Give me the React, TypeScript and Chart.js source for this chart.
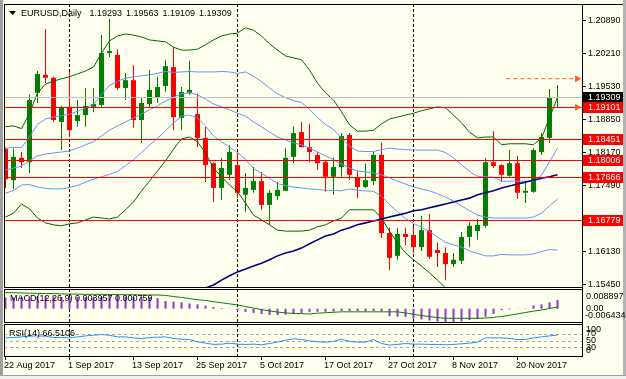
import React, { useEffect, useRef } from 'react';
import { Chart, registerables } from 'chart.js';

Chart.register(...registerables);

// ---------------- data ----------------
const SYMBOL = 'EURUSD';
const TIMEFRAME = 'Daily';

const OPEN = [
  1.1824, 1.1760, 1.1806, 1.1797, 1.1940, 1.1977, 1.1971, 1.1880, 1.1911, 1.1882,
  1.1894, 1.1911, 1.1915, 1.2022, 1.2018, 1.1950, 1.1966, 1.1884, 1.1917, 1.1931,
  1.1954, 1.1993, 1.1888, 1.1940, 1.1896, 1.1847, 1.1795, 1.1744, 1.1771, 1.1791,
  1.1730, 1.1740, 1.1758, 1.1709, 1.1727, 1.1738, 1.1808, 1.1859, 1.1828, 1.1812,
  1.1797, 1.1767, 1.1787, 1.1853, 1.1765, 1.1746, 1.1758, 1.1812, 1.1651, 1.1604,
  1.1649, 1.1647, 1.1622, 1.1657, 1.1616, 1.1610, 1.1587, 1.1594, 1.1643, 1.1655,
  1.1666, 1.1797, 1.1791, 1.1769, 1.1795, 1.1734, 1.1736, 1.1818, 1.1847, 1.19293,
];
const HIGH = [
  1.1828, 1.1826, 1.1818, 1.1936, 1.1985, 1.2071, 1.1973, 1.1913, 1.1983, 1.1925,
  1.1950, 1.1950, 1.2059, 1.2092, 1.2030, 1.1981, 1.1997, 1.1931, 1.1987, 1.1973,
  1.2008, 1.2034, 1.1952, 1.2006, 1.1938, 1.1870, 1.1797, 1.1806, 1.1832, 1.1816,
  1.1775, 1.1787, 1.1777, 1.1740, 1.1756, 1.1826, 1.1870, 1.1880, 1.1876, 1.1818,
  1.1802, 1.1806, 1.1857, 1.1857, 1.1779, 1.1795, 1.1818, 1.1837, 1.1662, 1.1662,
  1.1662, 1.1664, 1.1686, 1.1690, 1.1631, 1.1622, 1.1610, 1.1653, 1.1674, 1.1680,
  1.1806, 1.1861, 1.1793, 1.1822, 1.1810, 1.1758, 1.1826, 1.1857, 1.1948, 1.19563,
];
const LOW = [
  1.1744, 1.1742, 1.1785, 1.1775, 1.1919, 1.1960, 1.1880, 1.1822, 1.1849, 1.1870,
  1.1870, 1.1900, 1.1912, 1.2014, 1.1946, 1.1925, 1.1868, 1.1837, 1.1911, 1.1919,
  1.1942, 1.1863, 1.1863, 1.1936, 1.1828, 1.1756, 1.1715, 1.1719, 1.1760, 1.1723,
  1.1695, 1.1734, 1.1699, 1.1668, 1.1719, 1.1738, 1.1795, 1.1828, 1.1797, 1.1781,
  1.1736, 1.1730, 1.1767, 1.1760, 1.1723, 1.1744, 1.1750, 1.1641, 1.1575, 1.1596,
  1.1626, 1.1610, 1.1614, 1.1598, 1.1581, 1.1554, 1.1581, 1.1587, 1.1622, 1.1637,
  1.1662, 1.1785, 1.1756, 1.1767, 1.1721, 1.1713, 1.1734, 1.1812, 1.1837, 1.19109,
];
const CLOSE = [
  1.1762, 1.1808, 1.1797, 1.1925, 1.1979, 1.1971, 1.1884, 1.1911, 1.1863, 1.1894,
  1.1913, 1.1917, 1.2022, 1.2026, 1.1950, 1.1966, 1.1884, 1.1919, 1.1946, 1.1952,
  1.1995, 1.1890, 1.1942, 1.1946, 1.1847, 1.1791, 1.1744, 1.1785, 1.1818, 1.1734,
  1.1744, 1.1758, 1.1709, 1.1734, 1.1740, 1.1806, 1.1857, 1.1828, 1.1818, 1.1795,
  1.1767, 1.1787, 1.1851, 1.1771, 1.1746, 1.1760, 1.1812, 1.1651, 1.1600, 1.1649,
  1.1643, 1.1622, 1.1657, 1.1602, 1.1610, 1.1587, 1.1596, 1.1643, 1.1666, 1.1668,
  1.1797, 1.1789, 1.1771, 1.1795, 1.1734, 1.1738, 1.1822, 1.1849, 1.1931, 1.19309,
];

// Bollinger (20, 2) outer bands
const BB2_UPPER = [
  1.1870, 1.1872, 1.1866, 1.1898, 1.1940, 1.1958, 1.1964, 1.1969, 1.1973, 1.1979,
  1.1985, 1.1993, 1.2022, 1.2047, 1.2057, 1.2061, 1.2059, 1.2055, 1.2049, 1.2047,
  1.2045, 1.2034, 1.2028, 1.2028, 1.2030, 1.2039, 1.2049, 1.2057, 1.2061, 1.2063,
  1.2074, 1.2069, 1.2057, 1.2041, 1.2028, 1.2016, 1.2012, 1.2008, 1.1987, 1.1960,
  1.1940, 1.1925, 1.1901, 1.1874, 1.1861, 1.1861, 1.1863, 1.1876, 1.1886, 1.1890,
  1.1894, 1.1898, 1.1903, 1.1907, 1.1911, 1.1909, 1.1894, 1.1878, 1.1859, 1.1847,
  1.1849, 1.1849, 1.1833, 1.1835, 1.1835, 1.1835, 1.1833, 1.1847, 1.1888, 1.1931,
];
const BB2_LOWER = [
  1.1684, 1.1692, 1.1711, 1.1701, 1.1682, 1.1672, 1.1668, 1.1666, 1.1670, 1.1672,
  1.1678, 1.1684, 1.1682, 1.1680, 1.1684, 1.1699, 1.1715, 1.1738, 1.1758, 1.1779,
  1.1800, 1.1824, 1.1845, 1.1849, 1.1839, 1.1816, 1.1785, 1.1767, 1.1750, 1.1736,
  1.1713, 1.1688, 1.1678, 1.1668, 1.1657, 1.1655, 1.1655, 1.1655, 1.1657, 1.1664,
  1.1668, 1.1676, 1.1682, 1.1699, 1.1699, 1.1699, 1.1699, 1.1682, 1.1655, 1.1631,
  1.1610, 1.1596, 1.1583, 1.1569, 1.1554, 1.1538, 1.1536, 1.1536, 1.1530, 1.1530,
  1.1519, 1.1515, 1.1532, 1.1530, 1.1530, 1.1530, 1.1532, 1.1534, 1.1526, 1.1511,
];
// Bollinger (20, 1) inner bands and middle line
const BB1_UPPER = [
  1.1825, 1.1828, 1.1827, 1.1849, 1.1875, 1.1886, 1.1890, 1.1893, 1.1896, 1.1902,
  1.1909, 1.1916, 1.1936, 1.1955, 1.1964, 1.1970, 1.1973, 1.1975, 1.1977, 1.1980,
  1.1984, 1.1982, 1.1983, 1.1984, 1.1983, 1.1983, 1.1983, 1.1984, 1.1983, 1.1980,
  1.1983, 1.1974, 1.1963, 1.1950, 1.1938, 1.1930, 1.1924, 1.1920, 1.1906, 1.1889,
  1.1875, 1.1864, 1.1847, 1.1830, 1.1820, 1.1819, 1.1819, 1.1823, 1.1826, 1.1824,
  1.1823, 1.1822, 1.1822, 1.1822, 1.1822, 1.1817, 1.1806, 1.1792, 1.1778, 1.1768,
  1.1767, 1.1766, 1.1758, 1.1758, 1.1758, 1.1758, 1.1758, 1.1770, 1.1798, 1.1826,
];
const BB_MID = [
  1.1781, 1.1785, 1.1789, 1.1800, 1.1810, 1.1814, 1.1816, 1.1818, 1.1820, 1.1826,
  1.1833, 1.1839, 1.1851, 1.1863, 1.1872, 1.1880, 1.1888, 1.1896, 1.1905, 1.1913,
  1.1923, 1.1931, 1.1938, 1.1940, 1.1936, 1.1927, 1.1917, 1.1911, 1.1905, 1.1898,
  1.1892, 1.1880, 1.1870, 1.1859, 1.1849, 1.1843, 1.1837, 1.1833, 1.1826, 1.1818,
  1.1810, 1.1802, 1.1793, 1.1785, 1.1779, 1.1777, 1.1775, 1.1771, 1.1765, 1.1758,
  1.1752, 1.1746, 1.1742, 1.1738, 1.1732, 1.1725, 1.1717, 1.1707, 1.1697, 1.1688,
  1.1684, 1.1682, 1.1682, 1.1682, 1.1682, 1.1682, 1.1684, 1.1692, 1.1707, 1.1721,
];
const BB1_LOWER = [
  1.1733, 1.1739, 1.1750, 1.1751, 1.1746, 1.1743, 1.1742, 1.1742, 1.1745, 1.1749,
  1.1756, 1.1762, 1.1767, 1.1772, 1.1778, 1.1790, 1.1802, 1.1817, 1.1832, 1.1846,
  1.1862, 1.1878, 1.1892, 1.1894, 1.1888, 1.1872, 1.1851, 1.1839, 1.1828, 1.1817,
  1.1803, 1.1784, 1.1774, 1.1764, 1.1753, 1.1749, 1.1746, 1.1744, 1.1742, 1.1741,
  1.1739, 1.1739, 1.1738, 1.1742, 1.1739, 1.1738, 1.1737, 1.1727, 1.1710, 1.1695,
  1.1681, 1.1671, 1.1663, 1.1654, 1.1643, 1.1632, 1.1627, 1.1622, 1.1614, 1.1609,
  1.1604, 1.1604, 1.1607, 1.1606, 1.1606, 1.1606, 1.1608, 1.1613, 1.1617, 1.1616,
];
// long moving average (navy)
const MA_LONG = [
  null, null, null, null, null, null, null, null, null, null,
  null, null, null, null, null, null, null, null, null, null,
  null, null, null, null, 1.1532, 1.1538, 1.1544, 1.1554, 1.1563, 1.1571,
  1.1577, 1.1583, 1.1589, 1.1596, 1.1604, 1.1610, 1.1614, 1.1620, 1.1629, 1.1637,
  1.1645, 1.1649, 1.1657, 1.1662, 1.1668, 1.1672, 1.1676, 1.1680, 1.1684, 1.1688,
  1.1692, 1.1697, 1.1699, 1.1703, 1.1707, 1.1711, 1.1715, 1.1719, 1.1723, 1.1730,
  1.1734, 1.1738, 1.1744, 1.1748, 1.1752, 1.1756, 1.1760, 1.1764, 1.1767, 1.1771,
];

const MACD_MAIN = [
  0.0050, 0.0050, 0.0053, 0.0055, 0.0057, 0.0057, 0.0055, 0.0053, 0.0053, 0.0053,
  0.0053, 0.0053, 0.0055, 0.0057, 0.0057, 0.0055, 0.0053, 0.0053, 0.0053, 0.0048,
  0.0035, 0.0032, 0.0029, 0.0024, 0.0020, 0.0014, 0.0008, 0.0003, 0.0001, -0.0007,
  -0.0014, -0.0019, -0.0024, -0.0028, -0.0028, -0.0027, -0.0023, -0.0019, -0.0016, -0.0014,
  -0.0014, -0.0013, -0.0010, -0.0010, -0.0010, -0.0012, -0.0010, -0.0012, -0.0033, -0.0036,
  -0.0037, -0.0044, -0.0048, -0.0053, -0.0058, -0.006434, -0.0062, -0.0057, -0.0051, -0.0046,
  -0.0036, -0.0024, -0.0006, -0.0003, -0.0001, 0.0001, 0.0014, 0.0020, 0.0029, 0.003957,
];
const MACD_SIGNAL = [
  0.0073, 0.0072, 0.0071, 0.0070, 0.0069, 0.0069, 0.0068, 0.0067, 0.0066, 0.0066,
  0.0065, 0.0065, 0.0065, 0.0064, 0.0064, 0.0063, 0.0063, 0.0062, 0.0062, 0.0062,
  0.0060, 0.0055, 0.0051, 0.0046, 0.0041, 0.0037, 0.0032, 0.0027, 0.0022, 0.0017,
  0.0010, 0.0003, -0.0004, -0.0010, -0.0015, -0.0019, -0.0021, -0.0022, -0.0024, -0.0020,
  -0.0018, -0.0016, -0.0014, -0.0014, -0.0014, -0.0014, -0.0014, -0.0014, -0.0014, -0.0014,
  -0.0019, -0.0025, -0.0031, -0.0035, -0.0040, -0.0043, -0.0043, -0.0043, -0.0043, -0.0043,
  -0.0042, -0.0039, -0.0035, -0.0030, -0.0023, -0.0017, -0.0011, -0.0006, 0.0001, 0.000759,
];
const RSI = [
  58, 59, 61, 63, 64, 63, 59, 59, 58, 61,
  64, 66, 68, 66, 61, 61, 58, 56, 59, 60,
  61, 56, 54, 53, 46, 42, 38, 39, 42, 39,
  38, 39, 37, 41, 45, 51, 55, 53, 49, 46,
  45, 47, 54, 47, 45, 45, 53, 41, 36, 38,
  41, 39, 39, 38, 38, 37, 38, 40, 42, 45,
  58, 58, 58, 56, 53, 53, 58, 61, 64, 66.5106,
];

const DATE_TICK_INDEX = [0, 8, 16, 24, 32, 40, 48, 56, 64];
const DATE_TICK_LABELS = [
  '22 Aug 2017', '1 Sep 2017', '13 Sep 2017', '25 Sep 2017', '5 Oct 2017',
  '17 Oct 2017', '27 Oct 2017', '8 Nov 2017', '20 Nov 2017',
];
const MONTH_START_INDEX = [8, 29, 51];

const PRICE_TICKS = [1.2089, 1.2021, 1.1953, 1.1885, 1.1817, 1.1749, 1.1681, 1.1613, 1.1545];
const PRICE_MIN = 1.15378;
const PRICE_MAX = 1.2123;
const RED_LEVELS = [1.19101, 1.18451, 1.18006, 1.17666, 1.16779];
const BID_PRICE = 1.19309;
const TARGET_PRICE = 1.19691;
const TARGET_FROM_INDEX = 62.6;
const TARGET_TO_INDEX = 71.1;
const ARROW_INDEX = 71.45;
const ARROW_PRICES = [TARGET_PRICE, 1.19101];

const MACD_MAX = 0.008897;
const MACD_MIN = -0.006434;
const RSI_LEVELS = [70, 50, 30];
const RSI_AXIS_LABELS = [100, 70, 50, 30, 0];

// ---------------- styles ----------------
const FONT = '"Liberation Sans", Arial, sans-serif';
const BG = '#FFFFEE';
const BULL = '#008000';
const BEAR = '#FF0000';
const BAND_OUTER = '#006400';
const BAND_INNER = '#6495ED';
const MA_COLOR = '#000080';
const LEVEL_COLOR = '#FF0000';
const BID_COLOR = '#C0C0C0';
const ARROW_COLOR = '#FF5A1A';
const MACD_HIST_COLOR = '#9932CC';
const MACD_SIGNAL_COLOR = '#008000';
const RSI_COLOR = '#1E90FF';

const IDX = CLOSE.map((_, i) => i);
const X_MIN = -0.1875;
const X_MAX = 72.1875;

function xScale() {
  return { type: 'linear', min: X_MIN, max: X_MAX, display: false, offset: false };
}

function drawSeparators(chart: any) {
  const { ctx, chartArea: a, scales } = chart;
  ctx.save();
  ctx.strokeStyle = '#000';
  ctx.lineWidth = 1;
  ctx.setLineDash([3, 2]);
  MONTH_START_INDEX.forEach((i) => {
    const x = Math.floor(scales.x.getPixelForValue(i)) + 0.5;
    ctx.beginPath();
    ctx.moveTo(x, a.top);
    ctx.lineTo(x, a.bottom);
    ctx.stroke();
  });
  ctx.restore();
}

function drawFrame(chart: any) {
  const { ctx, chartArea: a } = chart;
  ctx.save();
  ctx.strokeStyle = '#000';
  ctx.lineWidth = 1;
  ctx.setLineDash([]);
  ctx.strokeRect(a.left + 0.5, a.top + 0.5, a.right - a.left - 1, a.bottom - a.top - 1);
  ctx.restore();
}

function text(ctx: any, s: string, x: number, y: number, color = '#000', align = 'left') {
  ctx.fillStyle = color;
  ctx.textAlign = align;
  ctx.textBaseline = 'middle';
  ctx.fillText(s, x, y);
}

const mainPlugin = {
  id: 'mainDecor',
  beforeDatasetsDraw(chart: any) {
    drawSeparators(chart);
  },
  beforeDatasetDraw(chart: any, args: any) {
    const ds = chart.data.datasets[args.index];
    if (ds.label !== 'target') return;
    const { ctx, chartArea: a, scales } = chart;
    const y = scales.y;
    ctx.save();
    ctx.lineWidth = 1;
    ctx.setLineDash([]);
    const yb = Math.round(y.getPixelForValue(BID_PRICE)) + 0.5;
    ctx.strokeStyle = BID_COLOR;
    ctx.beginPath();
    ctx.moveTo(a.left, yb);
    ctx.lineTo(a.right, yb);
    ctx.stroke();
    ctx.strokeStyle = LEVEL_COLOR;
    RED_LEVELS.forEach((p) => {
      const yy = Math.round(y.getPixelForValue(p)) + 0.5;
      ctx.beginPath();
      ctx.moveTo(a.left, yy);
      ctx.lineTo(a.right, yy);
      ctx.stroke();
    });
    ctx.restore();
  },
  afterDraw(chart: any) {
    const { ctx, chartArea: a, scales } = chart;
    drawFrame(chart);
    ctx.save();
    ctx.fillStyle = '#000';
    ctx.fillRect(a.left, a.top, 623 - a.left, 1);
    ctx.fillRect(a.right - 1, a.top, 1, a.bottom - a.top);
    // header
    ctx.beginPath();
    ctx.moveTo(a.left + 5, a.top + 7);
    ctx.lineTo(a.left + 12, a.top + 7);
    ctx.lineTo(a.left + 8.5, a.top + 11);
    ctx.closePath();
    ctx.fill();
    ctx.font = `9px ${FONT}`;
    const last = CLOSE.length - 1;
    let x = a.left + 17;
    const ty = a.top + 9.5;
    const title = `${SYMBOL},${TIMEFRAME}`;
    text(ctx, title, x, ty);
    x += ctx.measureText(title).width + 8;
    [OPEN[last], HIGH[last], LOW[last], CLOSE[last]].forEach((v) => {
      const s = v.toFixed(5);
      text(ctx, s, x, ty);
      x += ctx.measureText(s).width + 4;
    });
    // price boxes
    const y = scales.y;
    const boxes = [{ p: BID_PRICE, c: '#000000' }, ...RED_LEVELS.map((p) => ({ p, c: LEVEL_COLOR }))];
    boxes.forEach(({ p, c }) => {
      const yc = Math.round(y.getPixelForValue(p));
      ctx.fillStyle = c;
      ctx.fillRect(a.right, yc - 5, 40, 11);
      text(ctx, p.toFixed(5), a.right + 5, yc + 0.5, '#FFFFFF');
    });
    ctx.restore();
  },
};

const macdPlugin = {
  id: 'macdDecor',
  beforeDatasetsDraw(chart: any) {
    drawSeparators(chart);
  },
  afterDraw(chart: any) {
    const { ctx, chartArea: a, scales } = chart;
    drawFrame(chart);
    ctx.save();
    ctx.fillStyle = '#000';
    ctx.fillRect(a.right - 1, a.top - 2, 1, a.bottom - a.top + 4);
    ctx.font = `9px ${FONT}`;
    const last = MACD_MAIN.length - 1;
    text(ctx, `MACD(12,26,9) ${MACD_MAIN[last].toFixed(6)} ${MACD_SIGNAL[last].toFixed(6)}`, a.left + 6, a.top + 10);
    const y = scales.y;
    text(ctx, MACD_MAX.toFixed(6), a.right + 3, y.getPixelForValue(MACD_MAX) + 8);
    text(ctx, (0).toFixed(2), a.right + 3, y.getPixelForValue(0));
    text(ctx, MACD_MIN.toFixed(6), a.right + 2, y.getPixelForValue(MACD_MIN) - 7);
    ctx.restore();
  },
};

const rsiPlugin = {
  id: 'rsiDecor',
  beforeDatasetsDraw(chart: any) {
    const { ctx, chartArea: a, scales } = chart;
    drawSeparators(chart);
    ctx.save();
    ctx.strokeStyle = '#A8A8A8';
    ctx.lineWidth = 1;
    ctx.setLineDash([3, 3]);
    RSI_LEVELS.forEach((l) => {
      const yy = Math.round(scales.y.getPixelForValue(l)) + 0.5;
      ctx.beginPath();
      ctx.moveTo(a.left, yy);
      ctx.lineTo(a.right, yy);
      ctx.stroke();
    });
    ctx.restore();
  },
  afterDraw(chart: any) {
    const { ctx, chartArea: a, scales } = chart;
    drawFrame(chart);
    ctx.save();
    ctx.fillStyle = '#000';
    ctx.fillRect(a.right - 1, a.top - 2, 1, a.bottom - a.top + 2);
    ctx.font = `9px ${FONT}`;
    text(ctx, `RSI(14) ${RSI[RSI.length - 1].toFixed(4)}`, a.left + 5, a.top + 10);
    const y = scales.y;
    RSI_AXIS_LABELS.forEach((l) => {
      let yy = y.getPixelForValue(l);
      if (l === 100) yy += 6;
      if (l === 0) yy -= 6;
      text(ctx, String(l), a.right + 3, yy);
    });
    // date axis
    const x = scales.x;
    ctx.fillStyle = '#000';
    DATE_TICK_INDEX.forEach((i, k) => {
      const px = Math.floor(x.getPixelForValue(i));
      ctx.fillRect(px, a.bottom, 1, 3);
      text(ctx, DATE_TICK_LABELS[k], px - 1, a.bottom + 8.5);
    });
    ctx.restore();
  },
};

const baseOptions = (padding: any, yScale: any) => ({
  responsive: false,
  maintainAspectRatio: false,
  animation: false,
  devicePixelRatio: 1,
  events: [],
  layout: { padding },
  plugins: { legend: { display: false }, tooltip: { enabled: false } },
  scales: { x: xScale(), y: yScale },
});

const lineDs = (label: string, values: any[], color: string, width: number, order: number) => ({
  type: 'line',
  label,
  data: IDX.map((i) => ({ x: i, y: values[i] })),
  borderColor: color,
  borderWidth: width,
  pointRadius: 0,
  tension: 0,
  fill: false,
  spanGaps: false,
  order,
});

export default function App() {
  const mainRef = useRef<HTMLCanvasElement>(null);
  const macdRef = useRef<HTMLCanvasElement>(null);
  const rsiRef = useRef<HTMLCanvasElement>(null);

  useEffect(() => {
    const charts: Chart[] = [];
    const candleColors = IDX.map((i) => (CLOSE[i] >= OPEN[i] ? BULL : BEAR));

    const mainY = {
      type: 'linear',
      position: 'right',
      min: PRICE_MIN,
      max: PRICE_MAX,
      afterBuildTicks: (s: any) => {
        s.ticks = PRICE_TICKS.map((v) => ({ value: v }));
      },
      afterFit: (s: any) => {
        s.width = 43;
        s.paddingTop = 0;
        s.paddingBottom = 0;
      },
      ticks: {
        autoSkip: false,
        padding: 2,
        color: '#000',
        font: { family: FONT, size: 9 },
        callback: (v: any) => Number(v).toFixed(5),
      },
      grid: { drawOnChartArea: false, drawTicks: true, tickLength: 3, tickColor: '#000', color: '#000' },
      border: { display: false },
    };

    charts.push(
      new Chart(mainRef.current as HTMLCanvasElement, {
        type: 'bar',
        data: {
          datasets: [
            {
              type: 'bar',
              label: 'wick',
              data: IDX.map((i) => ({ x: i, y: [LOW[i], HIGH[i]] })),
              backgroundColor: candleColors,
              barThickness: 1,
              grouped: false,
              inflateAmount: 0,
              borderWidth: 0,
              order: 9,
            },
            {
              type: 'bar',
              label: 'body',
              data: IDX.map((i) => ({ x: i, y: [OPEN[i], CLOSE[i]] })),
              backgroundColor: candleColors,
              barThickness: 5,
              minBarLength: 1,
              grouped: false,
              inflateAmount: 0,
              borderWidth: 0,
              order: 8,
            },
            lineDs('bb2u', BB2_UPPER, BAND_OUTER, 1, 5),
            lineDs('bb2l', BB2_LOWER, BAND_OUTER, 1, 5),
            lineDs('bb1u', BB1_UPPER, BAND_INNER, 1, 5),
            lineDs('bbm', BB_MID, BAND_INNER, 1, 5),
            lineDs('bb1l', BB1_LOWER, BAND_INNER, 1, 5),
            lineDs('ma', MA_LONG, MA_COLOR, 1.6, 4),
            {
              type: 'line',
              label: 'target',
              data: [
                { x: TARGET_FROM_INDEX, y: TARGET_PRICE },
                { x: TARGET_TO_INDEX, y: TARGET_PRICE },
              ],
              borderColor: ARROW_COLOR,
              borderWidth: 1,
              borderDash: [4, 3],
              pointRadius: 0,
              order: 2,
            },
            {
              type: 'line',
              label: 'arrows',
              data: ARROW_PRICES.map((p) => ({ x: ARROW_INDEX, y: p })),
              showLine: false,
              pointStyle: 'triangle',
              rotation: 90,
              pointRadius: 4,
              pointBackgroundColor: ARROW_COLOR,
              pointBorderColor: ARROW_COLOR,
              pointBorderWidth: 0,
              order: 1,
            },
          ],
        } as any,
        options: baseOptions({ left: 4, top: 4, right: 0, bottom: 91 }, mainY) as any,
        plugins: [mainPlugin],
      })
    );

    charts.push(
      new Chart(macdRef.current as HTMLCanvasElement, {
        type: 'bar',
        data: {
          datasets: [
            lineDs('signal', MACD_SIGNAL, MACD_SIGNAL_COLOR, 1, 1),
            {
              type: 'bar',
              label: 'macd',
              data: IDX.map((i) => ({ x: i, y: MACD_MAIN[i] })),
              backgroundColor: MACD_HIST_COLOR,
              barThickness: 2,
              inflateAmount: 0,
              borderWidth: 0,
              order: 2,
            },
          ],
        } as any,
        options: baseOptions(
          { left: 4, top: 289, right: 43, bottom: 56 },
          { type: 'linear', display: false, min: MACD_MIN, max: MACD_MAX }
        ) as any,
        plugins: [macdPlugin],
      })
    );

    charts.push(
      new Chart(rsiRef.current as HTMLCanvasElement, {
        type: 'line',
        data: { datasets: [lineDs('rsi', RSI, RSI_COLOR, 1, 1)] } as any,
        options: baseOptions(
          { left: 4, top: 324, right: 43, bottom: 22 },
          { type: 'linear', display: false, min: 0, max: 100 }
        ) as any,
        plugins: [rsiPlugin],
      })
    );

    return () => charts.forEach((c) => c.destroy());
  }, []);

  const cv: React.CSSProperties = { position: 'absolute', left: 0, top: 0 };
  return (
    <div style={{ position: 'fixed', left: 0, top: 0, width: 626, height: 379, background: BG, overflow: 'hidden' }}>
      <div style={{ position: 'absolute', left: 0, top: 0, width: 3, height: 379, background: '#A0A0A0' }} />
      <div style={{ position: 'absolute', left: 623, top: 0, width: 3, height: 379, background: '#B4B4B4' }} />
      <div style={{ position: 'absolute', left: 0, top: 375, width: 626, height: 1, background: '#A0A0A0' }} />
      <div style={{ position: 'absolute', left: 0, top: 376, width: 626, height: 3, background: '#F0F0F0' }} />
      <canvas ref={mainRef} width={626} height={379} style={cv} />
      <canvas ref={macdRef} width={626} height={379} style={cv} />
      <canvas ref={rsiRef} width={626} height={379} style={cv} />
    </div>
  );
}
